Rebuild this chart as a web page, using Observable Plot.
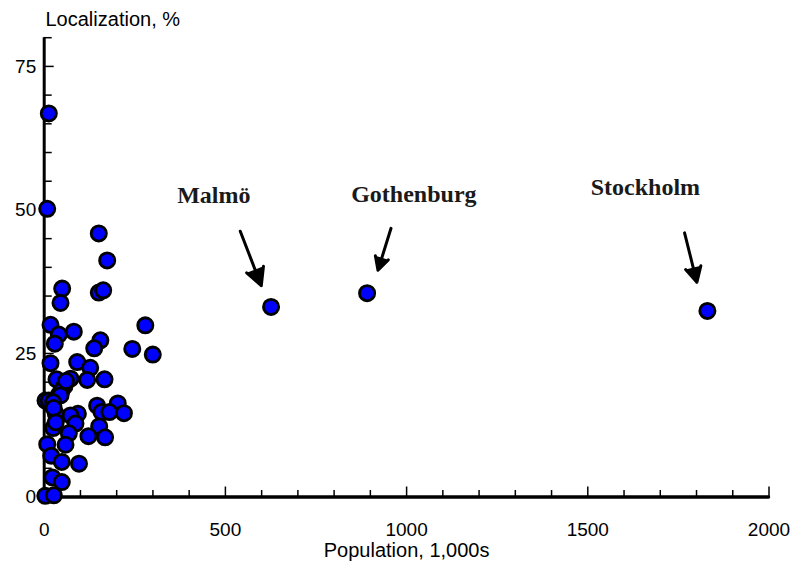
<!DOCTYPE html>
<html>
<head>
<meta charset="utf-8">
<script src="https://cdn.jsdelivr.net/npm/d3@7"></script>
<script src="https://cdn.jsdelivr.net/npm/@observablehq/plot@0.6"></script>
<style>
  body { margin: 0; background: #ffffff; }
  #chart svg { display: block; }
</style>
</head>
<body>
<div id="chart"></div>
<script>
// Population in thousands, localization in percent
const population = [
  12.7, 8.3, 150.6, 173.8, 49.6, 45, 150.6, 162.8, 17.4, 40.3,
  29.3, 81.7, 155, 138, 279, 243, 299.6, 17.4, 91, 127,
  72.6, 118.6, 166.5, 34, 56, 40.3, 48, 3.6, 12.7, 26.5,
  45, 146, 203, 158, 180, 220, 93, 72.6, 32, 24.6,
  86.3, 151.7, 24.6, 68, 122, 168, 8.3, 58.8, 19.3, 48.5,
  96, 22.5, 48.5, 3, 26.5, 26, 32, 60,
  626, 891, 1830
];
const localization = [
  66.8, 50.2, 45.9, 41.2, 36.3, 33.8, 35.6, 36.0, 30.0, 28.3,
  26.7, 28.8, 27.3, 25.9, 29.9, 25.8, 24.8, 23.3, 23.5, 22.5,
  20.6, 20.4, 20.5, 20.5, 19.3, 17.8, 18.5, 16.8, 16.8, 16.8,
  17.7, 15.9, 16.3, 14.8, 14.8, 14.6, 14.5, 14.2, 14.5, 16.5,
  12.8, 12.3, 12.0, 11.1, 10.6, 10.4, 9.2, 9.1, 7.2, 6.1,
  5.8, 3.4, 2.6, 0.2, 0.3, 15.5, 13.0, 20.2,
  33.1, 35.5, 32.4
];

// Annotations (data units)
const annotLabels = ["Malmö", "Gothenburg", "Stockholm"];
const annotLabelX = [468, 1020, 1659];
const annotLabelY = [52.5, 52.7, 53.9];
const arrowX1 = [541, 957, 1767];
const arrowY1 = [46.3, 46.8, 46.0];
const arrowX2 = [599, 921, 1801];
const arrowY2 = [36.8, 39.5, 37.4];

// Axis ticks
const xMajorTicks = [0, 500, 1000, 1500, 2000];
const xMinorTicks = [0, 100, 200, 300, 400, 500, 600, 700, 800, 900, 1000, 1100, 1200, 1300, 1400, 1500, 1600, 1700, 1800, 1900, 2000];
const yMajorTicks = [0, 25, 50, 75];
const yMinorTicks = [0, 5, 10, 15, 20, 25, 30, 35, 40, 45, 50, 55, 60, 65, 70, 75, 80];

const xTitle = "Population, 1,000s";
const yTitle = "Localization, %";

const points = population.map((p, i) => ({population: p, localization: localization[i]}));
const annotations = annotLabels.map((label, i) => ({
  label, lx: annotLabelX[i], ly: annotLabelY[i],
  x1: arrowX1[i], y1: arrowY1[i], x2: arrowX2[i], y2: arrowY2[i]
}));

const sans = "'Liberation Sans', Arial, sans-serif";
const serif = "'Liberation Serif', 'Times New Roman', serif";

const chart = Plot.plot({
  width: 794,
  height: 564,
  marginLeft: 43.7,
  marginRight: 25.5,
  marginTop: 37.2,
  marginBottom: 67.5,
  style: {fontFamily: sans, fontSize: "20px", color: "#000", background: "#fff"},
  x: {type: "linear", domain: [0, 2000]},
  y: {type: "linear", domain: [0, 80]},
  marks: [
    // tick marks pointing inward
    Plot.ruleX(xMinorTicks.filter(d => !xMajorTicks.includes(d)), {x: d => d, y1: 0, y2: 0, insetTop: -6.5, stroke: "#000", strokeWidth: 1.5}),
    Plot.ruleX(xMajorTicks, {x: d => d, y1: 0, y2: 0, insetTop: -10, stroke: "#000", strokeWidth: 1.5}),
    Plot.ruleY(yMinorTicks.filter(d => !yMajorTicks.includes(d)), {y: d => d, x1: 0, x2: 0, insetRight: -8, stroke: "#000", strokeWidth: 1.5}),
    Plot.ruleY(yMajorTicks, {y: d => d, x1: 0, x2: 0, insetRight: -10, stroke: "#000", strokeWidth: 1.5}),
    // axis lines
    Plot.ruleY([0], {x1: 0, x2: 2000, stroke: "#000", strokeWidth: 3.5, strokeLinecap: "round"}),
    Plot.ruleX([0], {y1: 0, y2: 80, stroke: "#000", strokeWidth: 3, strokeLinecap: "butt"}),
    // tick labels
    Plot.axisX({ticks: xMajorTicks, tickSize: 0, tickPadding: 25, tickFormat: d => `${d}`, label: null, fontSize: 19}),
    Plot.axisY({ticks: yMajorTicks, tickSize: 0, tickPadding: 8, tickFormat: d => `${d}`, label: null, fontSize: 19}),
    // axis titles
    Plot.text([yTitle], {frameAnchor: "top-left", text: d => d, textAnchor: "start", lineAnchor: "top", dx: 1.3, dy: -25.5, fontSize: 20}),
    Plot.text([xTitle], {frameAnchor: "bottom", text: d => d, lineAnchor: "middle", dy: 54, fontSize: 20}),
    // data
    Plot.dot(points, {x: "population", y: "localization", r: 7.6, fill: "#0000ff", stroke: "#000", strokeWidth: 2.8}),
    // annotations
    Plot.arrow(annotations, {x1: "x1", y1: "y1", x2: "x2", y2: "y2", stroke: "#000", fill: "#000", strokeWidth: 3, headLength: 13, headAngle: 55, bend: 0}),
    Plot.text(annotations, {x: "lx", y: "ly", text: "label", fontFamily: serif, fontWeight: "bold", fontSize: 24, fill: "#1a1a1a", lineAnchor: "middle"})
  ]
});
document.getElementById("chart").append(chart);
</script>
</body>
</html>
